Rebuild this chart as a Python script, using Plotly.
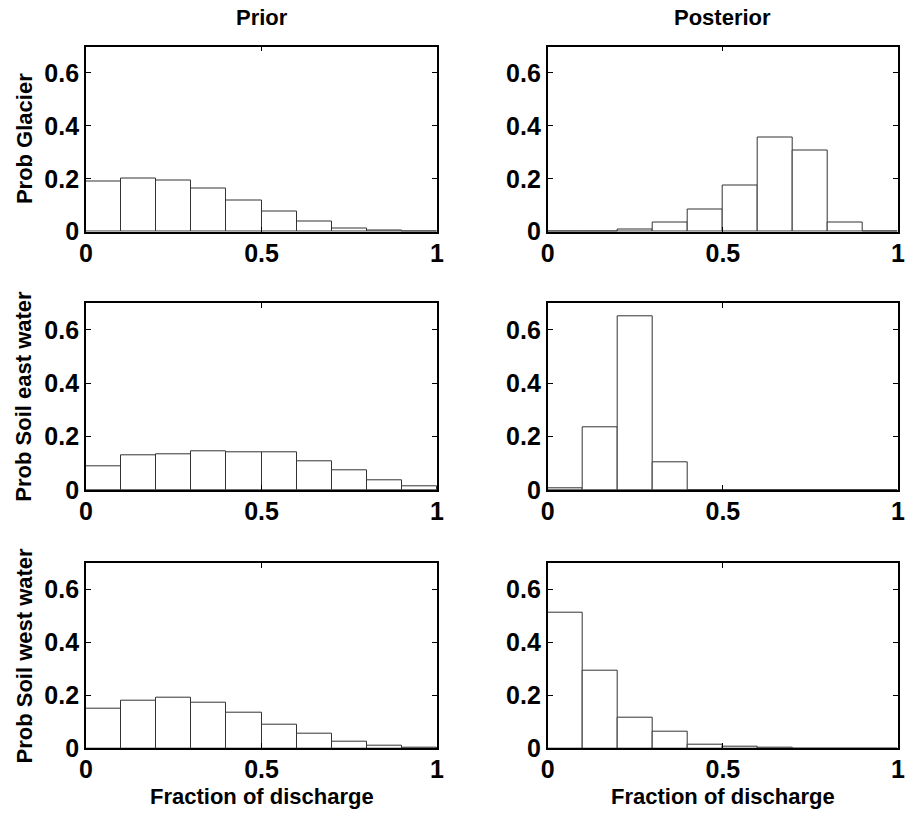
import plotly.graph_objects as go

# ---- data ----
bin_centers = [0.05, 0.15, 0.25, 0.35, 0.45, 0.55, 0.65, 0.75, 0.85, 0.95]
bin_width = 0.1

prior_glacier = [0.189, 0.201, 0.195, 0.162, 0.119, 0.076, 0.039, 0.014, 0.005, 0.001]
post_glacier = [0.0, 0.001, 0.010, 0.034, 0.085, 0.173, 0.357, 0.306, 0.033, 0.001]

prior_soil_east = [0.090, 0.130, 0.135, 0.146, 0.143, 0.143, 0.108, 0.073, 0.037, 0.013]
post_soil_east = [0.006, 0.236, 0.652, 0.105, 0.0, 0.0, 0.0, 0.0, 0.0, 0.0]

prior_soil_west = [0.151, 0.178, 0.189, 0.171, 0.133, 0.088, 0.054, 0.026, 0.008, 0.002]
post_soil_west = [0.512, 0.292, 0.116, 0.064, 0.014, 0.006, 0.001, 0.0, 0.0, 0.0]

col_titles = ["Prior", "Posterior"]
row_labels = ["Prob Glacier", "Prob Soil east water", "Prob Soil west water"]
x_label = "Fraction of discharge"

x_tickvals = [0, 0.5, 1]
x_ticktext = ["0", "0.5", "1"]
y_tickvals = [0, 0.2, 0.4, 0.6]
y_ticktext = ["0", "0.2", "0.4", "0.6"]

panels = [
    [prior_glacier, post_glacier],
    [prior_soil_east, post_soil_east],
    [prior_soil_west, post_soil_west],
]

# ---- layout geometry ----
W, H = 907, 813
x_domains = [[86 / W, 437 / W], [547.7 / W, 898 / W]]
y_px = [(46.5, 231.7), (303.3, 490.0), (562.7, 748.3)]
y_domains = [[1 - b / H, 1 - t / H] for (t, b) in y_px]

FONT = "Liberation Sans, Arial, Helvetica, sans-serif"

fig = go.Figure()
layout = dict(
    template="none",
    width=W, height=H,
    margin=dict(l=0, r=0, t=0, b=0, pad=0, autoexpand=False),
    paper_bgcolor="white", plot_bgcolor="white",
    showlegend=False,
    bargap=0,
    annotations=[],
)

idx = 0
for r in range(3):
    for c in range(2):
        idx += 1
        xa = "x" if idx == 1 else f"x{idx}"
        ya = "y" if idx == 1 else f"y{idx}"
        fig.add_trace(go.Bar(
            x=bin_centers, y=panels[r][c], width=bin_width,
            marker=dict(color="white", line=dict(color="#333333", width=1)),
            xaxis=xa, yaxis=ya, hoverinfo="x+y",
        ))
        axis_common = dict(
            automargin=False,
            showline=True, linecolor="black", linewidth=1.8, mirror="ticks",
            ticks="inside", ticklen=5, tickwidth=1, tickcolor="black",
            showgrid=False, zeroline=False,
            tickfont=dict(family=FONT, size=25, color="black", weight="bold"),
        )
        layout["xaxis" if idx == 1 else f"xaxis{idx}"] = dict(
            axis_common, domain=x_domains[c], range=[0, 1],
            anchor=ya, tickvals=x_tickvals, ticktext=x_ticktext,
            ticklabelstandoff=-2,
        )
        layout["yaxis" if idx == 1 else f"yaxis{idx}"] = dict(
            axis_common, domain=y_domains[r], range=[0, 0.7],
            anchor=xa, tickvals=y_tickvals, ticktext=y_ticktext,
            ticklabelstandoff=0,
        )

ann = layout["annotations"]
for c in range(2):
    xc = (x_domains[c][0] + x_domains[c][1]) / 2
    ann.append(dict(text=col_titles[c], x=xc, y=1 - 17 / H, xref="paper", yref="paper",
                    showarrow=False, xanchor="center", yanchor="middle",
                    font=dict(family=FONT, size=22, color="black", weight="bold")))
    ann.append(dict(text=x_label, x=xc, y=1 - 796 / H, xref="paper", yref="paper",
                    showarrow=False, xanchor="center", yanchor="middle",
                    font=dict(family=FONT, size=22, color="black", weight="bold")))
for r in range(3):
    yc = (y_domains[r][0] + y_domains[r][1]) / 2
    ann.append(dict(text=row_labels[r], x=24 / W, y=yc, xref="paper", yref="paper",
                    showarrow=False, xanchor="center", yanchor="middle", textangle=-90,
                    font=dict(family=FONT, size=22, color="black", weight="bold")))

fig.update_layout(**layout)
fig.write_html("out.html", config={"displayModeBar": False, "responsive": False})

css = "<style>html,body{margin:0;padding:0;overflow:hidden;}</style>"
with open("out.html", "r", encoding="utf-8") as f:
    html = f.read()
html = html.replace("<head>", "<head>" + css, 1)
with open("out.html", "w", encoding="utf-8") as f:
    f.write(html)
